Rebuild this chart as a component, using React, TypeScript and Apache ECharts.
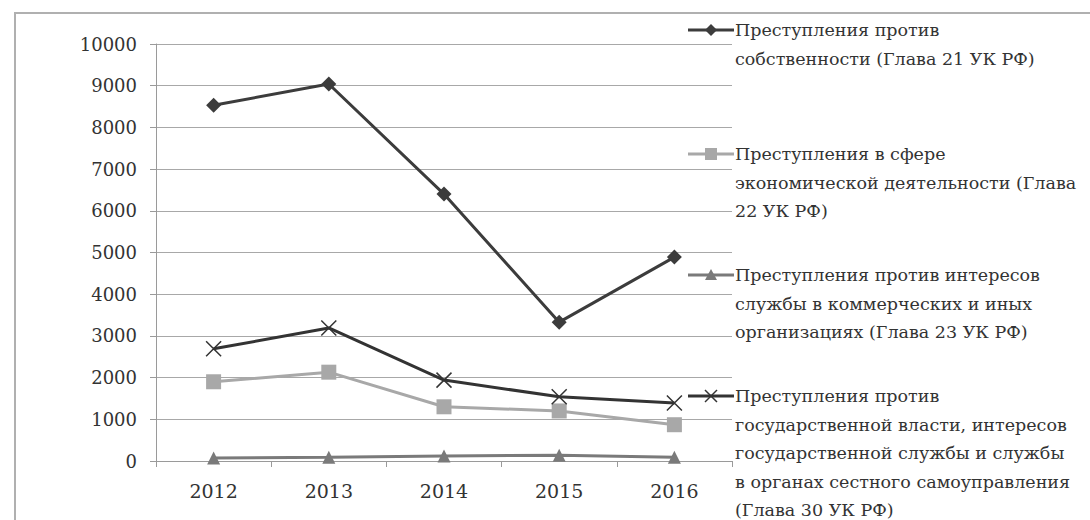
import React, { useEffect, useRef } from "react";
import * as echarts from "echarts";

const years = ["2012", "2013", "2014", "2015", "2016"];
const seriesNames = [
  "Преступления против собственности (Глава 21 УК РФ)",
  "Преступления в сфере экономической деятельности (Глава 22 УК РФ)",
  "Преступления против интересов службы в коммерческих и иных организациях (Глава 23 УК РФ)",
  "Преступления против государственной власти, интересов государственной службы и службы в органах сестного самоуправления (Глава 30 УК РФ)",
];
const legendLines = [
  ["Преступления против", "собственности (Глава 21 УК РФ)"],
  ["Преступления в сфере", "экономической деятельности (Глава", "22 УК РФ)"],
  ["Преступления против интересов", "службы в коммерческих и иных", "организациях (Глава 23 УК РФ)"],
  ["Преступления против", "государственной власти, интересов", "государственной службы и службы", "в органах сестного самоуправления", "(Глава 30 УК РФ)"],
];
const property = [8530, 9040, 6400, 3330, 4890];
const economic = [1900, 2130, 1300, 1200, 870];
const commercial = [70, 90, 120, 140, 90];
const stateService = [2690, 3190, 1940, 1540, 1390];

const FONT = "DejaVu Serif";
const X_PATH = "path://M0,0L10,10M10,0L0,10";

export default function App() {
  const ref = useRef<HTMLDivElement>(null);
  useEffect(() => {
    if (!ref.current) return;
    const chart = echarts.init(ref.current, undefined, { renderer: "svg" });
    const colors = ["#3c3c3c", "#a8a8a8", "#7a7a7a", "#333333"];
    const legendTops = [30, 154, 275, 396];
    const lh = 28.5;
    const graphics: any[] = [
      {
        type: "rect",
        shape: { x: 15, y: 13, width: 1100, height: 540 },
        style: { fill: "none", stroke: "#b0b0b0", lineWidth: 2 },
        z: 0,
      },
    ];
    legendLines.forEach((lines, i) => {
      const y = legendTops[i];
      graphics.push({
        type: "line",
        shape: { x1: 688, y1: y, x2: 734, y2: y },
        style: { stroke: colors[i], lineWidth: 3 },
        z: 10,
      });
      const cx = 711;
      if (i === 0) {
        graphics.push({ type: "polygon", shape: { points: [[cx, y - 6], [cx + 6, y], [cx, y + 6], [cx - 6, y]] }, style: { fill: colors[0] }, z: 11 });
      } else if (i === 1) {
        graphics.push({ type: "rect", shape: { x: cx - 6, y: y - 6, width: 12, height: 12 }, style: { fill: colors[1] }, z: 11 });
      } else if (i === 2) {
        graphics.push({ type: "polygon", shape: { points: [[cx, y - 6], [cx + 6, y + 5], [cx - 6, y + 5]] }, style: { fill: colors[2] }, z: 11 });
      } else {
        graphics.push({ type: "line", shape: { x1: cx - 6, y1: y - 6, x2: cx + 6, y2: y + 6 }, style: { stroke: colors[3], lineWidth: 1.5 }, z: 11 });
        graphics.push({ type: "line", shape: { x1: cx - 6, y1: y + 6, x2: cx + 6, y2: y - 6 }, style: { stroke: colors[3], lineWidth: 1.5 }, z: 11 });
      }
      lines.forEach((t, k) => {
        graphics.push({
          type: "text",
          x: 735,
          y: y + k * lh,
          style: {
            text: t,
            fontFamily: FONT,
            fontSize: 17.5,
            fill: "#333",
            verticalAlign: "middle",
            align: "left",
          },
          z: 12,
        });
      });
    });

    chart.setOption({
      animation: false,
      backgroundColor: "#ffffff",
      textStyle: { fontFamily: FONT },
      grid: { left: 156, right: 358, top: 44, bottom: 59, containLabel: false },
      xAxis: {
        type: "category",
        data: years,
        boundaryGap: true,
        axisLine: { show: true, lineStyle: { color: "#9a9a9a", width: 1 } },
        axisTick: { show: true, alignWithLabel: false, length: 6, lineStyle: { color: "#9a9a9a" } },
        axisLabel: { color: "#333", fontFamily: FONT, fontSize: 19, margin: 20 },
      },
      yAxis: {
        type: "value",
        min: 0,
        max: 10000,
        interval: 1000,
        axisLine: { show: true, lineStyle: { color: "#9a9a9a", width: 1 } },
        axisTick: { show: true, length: 6, lineStyle: { color: "#9a9a9a" } },
        axisLabel: {
          color: "#333",
          fontFamily: FONT,
          fontSize: 18,
          margin: 19,
          formatter: (v: number) => String(v),
        },
        splitLine: { show: true, lineStyle: { color: "#a8a8a8", width: 1 } },
      },
      graphic: graphics,
      series: [
        {
          name: seriesNames[0],
          type: "line",
          data: property,
          symbol: "diamond",
          symbolSize: 15,
          lineStyle: { color: colors[0], width: 3 },
          itemStyle: { color: colors[0] },
          z: 5,
        },
        {
          name: seriesNames[1],
          type: "line",
          data: economic,
          symbol: "rect",
          symbolSize: 15,
          lineStyle: { color: colors[1], width: 3 },
          itemStyle: { color: colors[1] },
          z: 4,
        },
        {
          name: seriesNames[2],
          type: "line",
          data: commercial,
          symbol: "triangle",
          symbolSize: 13,
          lineStyle: { color: colors[2], width: 3 },
          itemStyle: { color: colors[2] },
          z: 3,
        },
        {
          name: seriesNames[3],
          type: "line",
          data: stateService,
          symbol: X_PATH,
          symbolSize: 15,
          lineStyle: { color: colors[3], width: 3 },
          itemStyle: { color: "none", borderColor: colors[3], borderWidth: 1.5 },
          z: 6,
        },
      ],
    });
    return () => chart.dispose();
  }, []);
  return (
    <div
      ref={ref}
      style={{ position: "fixed", left: 0, top: 0, width: 1090, height: 520, background: "#fff" }}
    />
  );
}
